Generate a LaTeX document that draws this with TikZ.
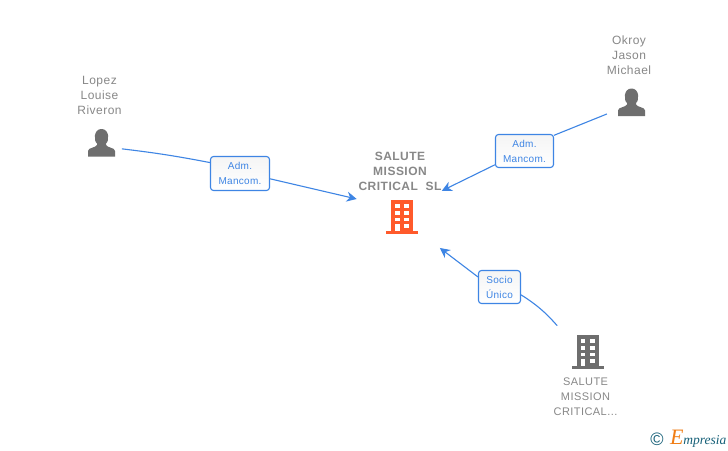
\documentclass[tikz,border=0pt]{standalone}
\usepackage{fontspec}
\usepackage{xcolor}
\usepackage{tikz}
\usetikzlibrary{arrows.meta,shapes,positioning}
\newfontfamily\labelfont[LetterSpace=4]{Liberation Sans}
\newfontfamily\pillfont[LetterSpace=3]{Liberation Sans}
\newfontfamily\logofont{Liberation Serif}
\definecolor{emblue}{RGB}{62,133,228}
\definecolor{emgray}{RGB}{136,136,136}
\definecolor{emicon}{RGB}{110,110,110}
\definecolor{emred}{RGB}{255,90,43}
\definecolor{emteal}{RGB}{22,96,120}
\definecolor{emorange}{RGB}{240,125,20}
\tikzstyle{namelabel} = [align=center, text=emgray, inner sep=0pt, font={\labelfont\fontsize{12}{15}\selectfont}]
\tikzstyle{mainlabel} = [namelabel, font={\labelfont\bfseries\fontsize{12}{15}\selectfont}]
\tikzstyle{smalllabel} = [namelabel, font={\labelfont\fontsize{11}{15}\selectfont}]
\tikzstyle{pill} = [rectangle, rounded corners=3pt, draw=emblue, line width=1.1pt, top color=black!4, bottom color=white, text=emblue, align=center, inner sep=0pt, font={\pillfont\fontsize{10}{15}\selectfont}]
\tikzstyle{iconbox} = [circle, inner sep=0pt]
\tikzstyle{arrow} = [line width=1.1pt,-{Stealth[length=10pt,width=10pt]},color=emblue]
\tikzstyle{link} = [line width=1.1pt,color=emblue]
\tikzset{
  pics/person/.style={code={
    \fill[emicon] (-13.5,13.5) -- (-13.5,8) .. controls (-13.5,4.5) and (-6,5) .. (-4.5,2) -- (-4.5,0.5)
      .. controls (-8,-2) and (-8,-14) .. (0,-14) .. controls (8,-14) and (8,-2) .. (4.5,0.5)
      -- (4.5,2) .. controls (6,5) and (13.5,4.5) .. (13.5,8) -- (13.5,13.5) -- cycle;
  }},
  pics/building/.style={code={
    \fill[#1] (-11,-17) rectangle (11,14);
    \fill[#1] (-16,14) rectangle (16,17);
    \foreach \rowy in {-13,-6,0.5} {
      \fill[white] (-7,\rowy) rectangle (-2.4,\rowy+3.7);
      \fill[white] (2.4,\rowy) rectangle (7,\rowy+3.7);
    }
    \fill[white] (-7,7) rectangle (-2.4,14);
    \fill[white] (2.4,7) rectangle (7,11);
  }}
}

\begin{document}
\begin{tikzpicture}[x=1pt,y=-1pt]
\useasboundingbox[fill=white] (0,0) rectangle (728,450);

% Icons
\node (lopezicon) [iconbox, minimum size=42pt] at (101.5,143) {};
\node (okroyicon) [iconbox, minimum size=54pt] at (631.5,102.5) {};
\node (holdingicon) [iconbox, minimum size=80pt] at (587.5,352) {};
\node (saluteicon) [iconbox, minimum size=97pt] at (401.5,218) {};
\pic at (lopezicon) {person};
\pic at (okroyicon) {person};
\pic at (holdingicon) {building=emicon};
\pic at (402,217) {building=emred};

% Names
\node (lopez) [namelabel] at (99.5,95) {Lopez\\Louise\\Riveron};
\node (okroy) [namelabel] at (629,55) {Okroy\\Jason\\Michael};
\node (salute) [mainlabel] at (400,171) {SALUTE\\MISSION\\CRITICAL\ \ SL};
\node (holding) [smalllabel] at (585.5,397) {SALUTE\\MISSION\\CRITICAL...};

% Role boxes
\node (lopezpill) [pill, minimum width=59pt, minimum height=34pt] at (240,173.5) {Adm.\\Mancom.};
\node (okroypill) [pill, minimum width=58pt, minimum height=33pt] at (524.5,151) {Adm.\\Mancom.};
\node (holdingpill) [pill, minimum width=42pt, minimum height=33pt] at (499.5,287) {Socio\\Único};

% Arrows
\draw[link] (lopezicon.-16) to[bend left=2] (lopezpill.160);
\draw[arrow] (lopezpill.-10) -- (saluteicon.157);
\draw[link] (okroyicon.-155) -- (okroypill.28);
\draw[arrow] (okroypill.205) -- (saluteicon.34);
\draw[link] (holdingicon.139) to[bend right=8] (holdingpill.-20);
\draw[arrow] (holdingpill.155) -- (saluteicon.-38);

% Logo
\node (copyright) [text=emteal, inner sep=0pt, font={\labelfont\fontsize{18}{18}\selectfont}] at (657,439) {©};
\node (empresia) [right=6pt of copyright, text=emteal, inner sep=0pt, font={\logofont\itshape\fontsize{13.5}{14}\selectfont}] {{\color{emorange}\fontsize{22}{22}\selectfont E}mpresia};
\end{tikzpicture}
\end{document}
